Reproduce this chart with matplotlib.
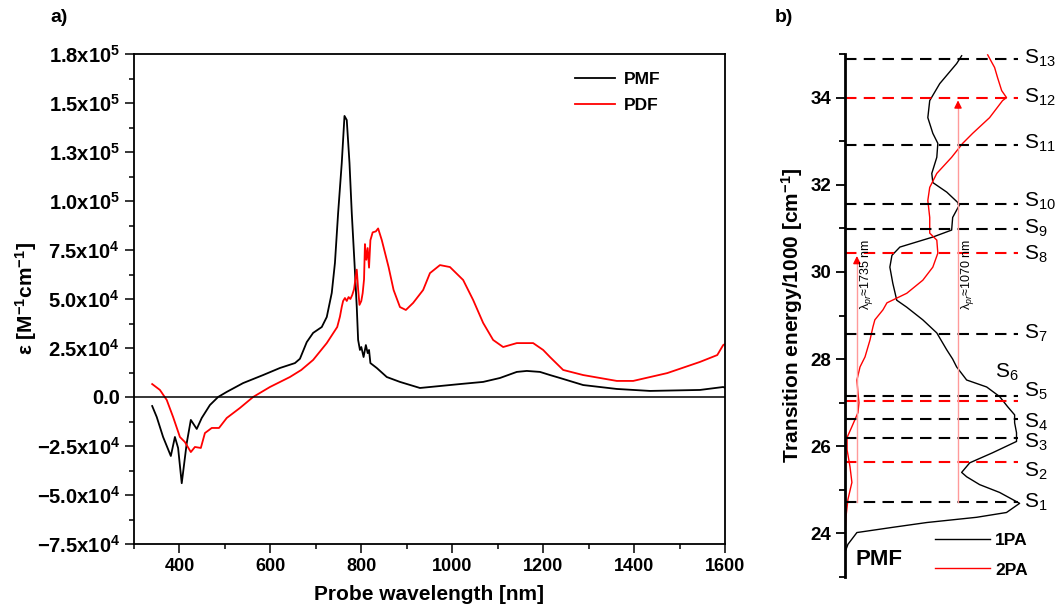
import numpy as np
import matplotlib
matplotlib.use('Agg')
import matplotlib.pyplot as plt
from matplotlib.ticker import FixedLocator, FixedFormatter, MultipleLocator

plt.rcParams['font.family'] = ['Liberation Sans', 'DejaVu Sans']
plt.rcParams['mathtext.fontset'] = 'custom'
plt.rcParams['mathtext.rm'] = 'Liberation Sans'
plt.rcParams['mathtext.bf'] = 'Liberation Sans:bold'
plt.rcParams['mathtext.it'] = 'Liberation Sans:italic'

# ---- panel a data: epsilon vs probe wavelength ----
pmf_nm = [340, 350, 364, 381, 390, 397, 405, 416, 425, 438, 449, 467, 485, 504, 540, 584,
          621, 654, 665, 680, 694, 713, 724, 735, 742, 749, 757, 763, 768, 774, 779, 785,
          790, 793, 797, 800, 805, 810, 814, 817, 820, 834, 856, 885, 929, 973, 1017, 1068,
          1105, 1142, 1164, 1193, 1215, 1237, 1288, 1362, 1435, 1545, 1596, 1600]
pmf_eps = [-4600, -10200, -20400, -30100, -20400, -26000, -44000, -23500, -11700, -16300,
           -10700, -4100, 0, 2600, 7100, 11200, 14800, 17300, 19500, 28000, 32700, 35700,
           40800, 53100, 68400, 93900, 119400, 143400, 141300, 119400, 93900, 68400, 45900,
           29100, 24000, 25500, 20400, 26500, 22400, 24000, 17300, 14800, 10200, 7700, 4600,
           5600, 6600, 7700, 9700, 12800, 13300, 12800, 11200, 9700, 6100, 4100, 3100, 3600,
           5100, 4700]

pdf_nm = [340, 357, 372, 386, 401, 412, 425, 434, 447, 456, 471, 487, 504, 533, 562, 599,
          643, 668, 694, 724, 747, 753, 757, 760, 764, 768, 772, 776, 780, 784, 787, 790,
          793, 796, 800, 803, 806, 808, 811, 814, 817, 820, 825, 832, 837, 845, 860, 871,
          885, 898, 914, 936, 951, 973, 995, 1024, 1046, 1068, 1090, 1112, 1142, 1178, 1200,
          1215, 1244, 1288, 1362, 1398, 1473, 1545, 1583, 1596, 1600]
pdf_eps = [6600, 3600, -1500, -10200, -20400, -23000, -28100, -25500, -26000, -18400, -15800,
           -15800, -10700, -5600, 0, 5100, 10200, 13800, 18900, 27500, 35700, 41000, 46000,
           49000, 50500, 49000, 51000, 50000, 52000, 55000, 60000, 65000, 55000, 47000, 49000,
           53000, 60000, 78000, 70000, 76000, 66000, 80000, 84000, 84500, 86000, 80100, 66300,
           54600, 45900, 44400, 48000, 54600, 63200, 67300, 66300, 59700, 49500, 37800, 29100,
           25500, 27500, 27500, 24000, 20400, 13800, 11200, 8200, 8200, 12200, 17900, 21400,
           26500, 27000]

eps_ticks = [-75000, -50000, -25000, 0, 25000, 50000, 75000, 100000, 125000, 150000, 175000]
eps_labels = [r'$\mathbf{-7.5x10^4}$', r'$\mathbf{-5.0x10^4}$', r'$\mathbf{-2.5x10^4}$', '0.0',
              r'$\mathbf{2.5x10^4}$', r'$\mathbf{5.0x10^4}$', r'$\mathbf{7.5x10^4}$',
              r'$\mathbf{1.0x10^5}$', r'$\mathbf{1.3x10^5}$', r'$\mathbf{1.5x10^5}$',
              r'$\mathbf{1.8x10^5}$']

# ---- panel b data: spectra vs transition energy (x1000 cm-1) ----
pa1_E = [23.57, 23.75, 24.02, 24.14, 24.25, 24.37, 24.48, 24.69, 24.94, 25.12, 25.30, 25.40,
         25.62, 25.85, 26.11, 26.31, 26.54, 26.72, 26.91, 27.14, 27.36, 27.52, 27.82, 28.00,
         28.21, 28.60, 28.90, 29.19, 29.35, 29.74, 30.11, 30.38, 30.57, 30.80, 30.96, 31.25,
         31.55, 31.83, 32.05, 32.26, 32.63, 32.95, 33.18, 33.54, 33.93, 34.32, 34.78, 34.96]
pa1_val = [0.0, 0.017, 0.069, 0.277, 0.474, 0.763, 0.936, 1.012, 0.896, 0.780, 0.705, 0.676,
           0.723, 0.855, 0.994, 0.994, 0.983, 0.983, 0.942, 0.896, 0.821, 0.705, 0.647, 0.624,
           0.590, 0.532, 0.451, 0.358, 0.300, 0.277, 0.260, 0.272, 0.318, 0.509, 0.618, 0.624,
           0.665, 0.590, 0.509, 0.503, 0.532, 0.538, 0.509, 0.480, 0.491, 0.549, 0.647, 0.676]

pa2_E = [23.57, 24.02, 24.39, 24.78, 25.17, 25.53, 25.92, 26.20, 26.45, 26.77, 27.00, 27.23,
         27.52, 27.82, 28.05, 28.44, 28.74, 28.90, 29.13, 29.29, 29.51, 29.81, 30.11, 30.43,
         30.73, 30.89, 31.25, 31.64, 31.94, 32.26, 32.63, 32.95, 33.18, 33.54, 33.93, 34.00,
         34.16, 34.46, 34.69, 34.98]
pa2_val = [0.0, 0.0, 0.006, 0.017, 0.040, 0.029, 0.012, 0.012, 0.040, 0.075, 0.081, 0.075,
           0.069, 0.087, 0.116, 0.145, 0.162, 0.173, 0.220, 0.243, 0.358, 0.451, 0.509, 0.538,
           0.532, 0.491, 0.491, 0.480, 0.491, 0.532, 0.618, 0.682, 0.740, 0.838, 0.913, 0.936,
           0.908, 0.884, 0.867, 0.827]

black_levels = [24.71, 26.20, 26.63, 27.16, 28.58, 30.99, 31.55, 32.92, 34.89]
red_levels = [25.65, 27.04, 30.43, 34.00]

state_names = ['S$_1$', 'S$_2$', 'S$_3$', 'S$_4$', 'S$_5$', 'S$_6$', 'S$_7$', 'S$_8$',
               'S$_9$', 'S$_{10}$', 'S$_{11}$', 'S$_{12}$', 'S$_{13}$']
state_label_E = [24.71, 25.42, 26.08, 26.54, 27.25, 27.70, 28.58, 30.40, 31.0, 31.62,
                 32.94, 34.0, 34.9]

probe_texts = ['λ$_{pr}$≈1735 nm', 'λ$_{pr}$≈1070 nm']
probe_x = [0.069, 0.655]
probe_top = [30.43, 34.00]

W, H = 1055, 607
fig = plt.figure(figsize=(W / 100, H / 100), dpi=100)


def px_box(left, top, right, bottom):
    return [left / W, 1 - bottom / H, (right - left) / W, (bottom - top) / H]


# ---------------- panel a ----------------
ax = fig.add_axes(px_box(134, 54, 725, 544))
ax.plot(pmf_nm, pmf_eps, color='black', lw=1.3, label='PMF')
ax.plot(pdf_nm, pdf_eps, color='red', lw=1.3, label='PDF')
ax.axhline(0, color='black', lw=1.1)
ax.set_xlim(300, 1600)
ax.set_ylim(-75000, 175000)
ax.xaxis.set_major_locator(MultipleLocator(200))
ax.xaxis.set_minor_locator(MultipleLocator(100))
ax.yaxis.set_major_locator(FixedLocator(eps_ticks))
ax.yaxis.set_major_formatter(FixedFormatter(eps_labels))
ax.yaxis.set_minor_locator(MultipleLocator(12500))
ax.tick_params(which='major', direction='out', length=6.5, width=1.1, labelsize=13)
ax.tick_params(axis='y', which='major', labelsize=14.5)
ax.tick_params(which='minor', direction='out', length=3.6, width=1.1)
for lab in ax.get_xticklabels() + ax.get_yticklabels():
    lab.set_fontweight('bold')
for sp in ax.spines.values():
    sp.set_linewidth(1.3)
ax.set_xlabel('Probe wavelength [nm]', fontsize=15, fontweight='bold')
ax.xaxis.set_label_coords(0.5, -0.084)
ax.set_ylabel(r'ε [$\mathbf{M^{-1}cm^{-1}}$]', fontsize=15, fontweight='bold')
ax.yaxis.set_label_coords(-0.16, 0.5)
ax.legend(loc='upper left', bbox_to_anchor=(0.72, 0.995), frameon=False,
          prop={'weight': 'bold', 'size': 12.5}, handlelength=2.3, labelspacing=0.6,
          handletextpad=0.5)
fig.text(50 / W, 1 - 18 / H, 'a)', fontsize=14, fontweight='bold', va='center')

# ---------------- panel b ----------------
bx = fig.add_axes(px_box(845, 54, 1021, 577))
bx.set_xlim(0, 1.02)
bx.set_ylim(23, 35)
bx.plot(pa1_val, pa1_E, color='black', lw=1.0, label='1PA')
bx.plot(pa2_val, pa2_E, color='red', lw=1.0, label='2PA')
dash = (0, (5.5, 3.5))
bx.hlines(black_levels, 0, 1.0, colors='black', linestyles=dash, lw=1.5)
bx.hlines(red_levels, 0, 1.0, colors='red', linestyles=dash, lw=1.5)

# probe arrows from S1
for x, top, txt in zip(probe_x, probe_top, probe_texts):
    bx.plot([x, x], [24.71, top - 0.25], color='#ff9a9a', lw=1.0)
    bx.annotate('', xy=(x, top), xytext=(x, top - 0.3),
                arrowprops=dict(arrowstyle='-|>', color='red', lw=1.0, mutation_scale=11))
    bx.text(x + 0.055, 29.95, txt, rotation=90, fontsize=9, ha='center', va='center')

for i, (name, e) in enumerate(zip(state_names, state_label_E)):
    xx = 0.87 if i == 5 else 1.035
    bx.text(xx, e, name, fontsize=15, ha='left', va='center', clip_on=False)

bx.spines['top'].set_visible(False)
bx.spines['right'].set_visible(False)
bx.spines['bottom'].set_visible(False)
bx.spines['left'].set_linewidth(2.0)
bx.set_xticks([])
bx.yaxis.set_major_locator(MultipleLocator(2))
bx.yaxis.set_minor_locator(MultipleLocator(1))
bx.tick_params(which='major', direction='out', length=6.5, width=1.3, labelsize=13.5)
bx.tick_params(which='minor', direction='out', length=4, width=1.3)
for lab in bx.get_yticklabels():
    lab.set_fontweight('bold')
bx.set_ylabel('Transition energy/1000 [cm$^{\\mathbf{-1}}$]', fontsize=15, fontweight='bold')
bx.yaxis.set_label_coords(-0.225, 0.5)
bx.legend(loc='upper left', bbox_to_anchor=(0.42, 0.115), frameon=False,
          prop={'weight': 'bold', 'size': 12.5}, handlelength=3.2, labelspacing=0.85,
          handletextpad=0.3)
bx.text(0.06, 23.4, 'PMF', fontsize=16, fontweight='bold', ha='left', va='center')
fig.text(775 / W, 1 - 18 / H, 'b)', fontsize=14, fontweight='bold', va='center')

fig.savefig('out.png', dpi=100)
